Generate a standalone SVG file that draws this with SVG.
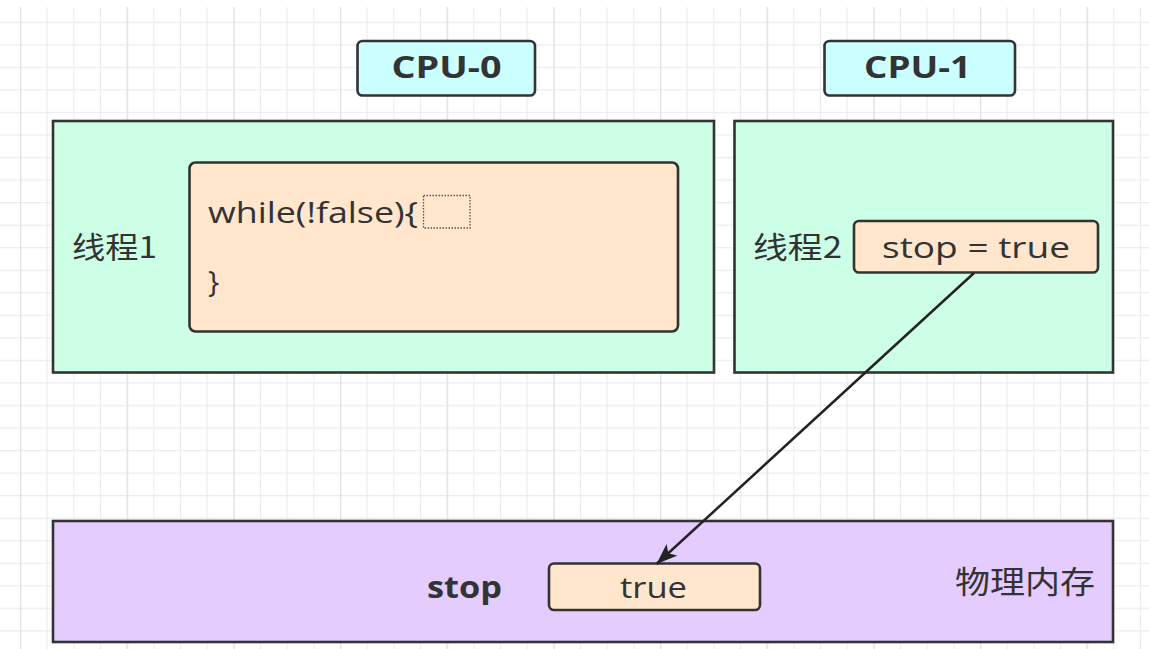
<svg xmlns="http://www.w3.org/2000/svg" width="1149" height="649" viewBox="0 0 1149 649">
  <defs>
    <pattern id="gridMinor" patternUnits="userSpaceOnUse" x="20" y="21.7" width="26.6667" height="22.54">
      <path d="M0.5,0 V22.54 M0,0.5 H26.6667" stroke="#ececf1" stroke-width="1.3" fill="none"/>
    </pattern>
    <pattern id="gridMajor" patternUnits="userSpaceOnUse" x="126.67" y="0" width="106.667" height="649">
      <path d="M0.5,0 V649" stroke="#e1e1e8" stroke-width="1.5" fill="none"/>
    </pattern>
    <marker id="arrow" markerUnits="userSpaceOnUse" markerWidth="24" markerHeight="18" refX="21" refY="8" orient="auto">
      <path d="M0,0 L21,8 L0,16 L5,8 Z" fill="#222222"/>
    </marker>
    <style>
      .box { stroke: #333333; stroke-width: 2.6; }
      .txt { font-family: "Open Sans", "Noto Sans", "Noto Sans CJK SC", sans-serif; fill: #333333; }
      .cjk { font-family: "Noto Sans CJK SC", "Open Sans", sans-serif; fill: #333333; }
      .bold { font-weight: bold; }
    </style>
  </defs>

  <rect width="1149" height="649" fill="#ffffff"/>
  <rect x="0" y="7" width="1149" height="642" fill="url(#gridMinor)"/>
  <rect x="0" y="7" width="1149" height="642" fill="url(#gridMajor)"/>

  <g id="cpu0">
    <rect class="box" x="357.5" y="41" width="177.5" height="54.5" rx="5" fill="#ccffff"/>
    <text class="txt bold" x="446.5" y="78" font-size="30" text-anchor="middle" textLength="110" lengthAdjust="spacingAndGlyphs">CPU-0</text>
  </g>

  <g id="cpu1">
    <rect class="box" x="824.5" y="41" width="190.5" height="54.5" rx="5" fill="#ccffff"/>
    <text class="txt bold" x="917.5" y="78" font-size="30" text-anchor="middle" textLength="107" lengthAdjust="spacingAndGlyphs">CPU-1</text>
  </g>

  <g id="thread1">
    <rect class="box" x="53" y="121" width="661" height="251.5" fill="#ccffe6"/>
    <text class="cjk" x="72" y="258" font-size="30" textLength="85" lengthAdjust="spacingAndGlyphs">线程1</text>
  </g>

  <g id="loop">
    <rect class="box" x="189.5" y="162.5" width="488.5" height="169" rx="6" fill="#ffe6cc"/>
    <text class="txt" x="208" y="223" font-size="30" textLength="210" lengthAdjust="spacingAndGlyphs">while(!false){</text>
    <rect x="423.5" y="195.5" width="46.5" height="32.5" fill="none" stroke="#555555" stroke-width="1.3" stroke-dasharray="1.5 1.5"/>
    <text class="txt" x="208" y="292" font-size="30">}</text>
  </g>

  <g id="thread2">
    <rect class="box" x="734.5" y="121" width="378.5" height="251.5" fill="#ccffe6"/>
    <text class="cjk" x="753" y="258" font-size="30" textLength="89" lengthAdjust="spacingAndGlyphs">线程2</text>
  </g>

  <g id="assign">
    <rect class="box" x="854" y="221" width="244" height="51.5" rx="5" fill="#ffe6cc"/>
    <text class="txt" x="882" y="258" font-size="30" textLength="188" lengthAdjust="spacingAndGlyphs">stop = true</text>
  </g>

  <g id="memory">
    <rect class="box" x="53" y="521" width="1060" height="121" fill="#e5ccff"/>
    <text class="txt bold" x="427" y="598" font-size="30" textLength="75" lengthAdjust="spacingAndGlyphs">stop</text>
    <text class="cjk" x="955" y="593" font-size="31" textLength="140" lengthAdjust="spacingAndGlyphs">物理内存</text>
  </g>

  <g id="value">
    <rect class="box" x="549" y="563.5" width="211" height="46.5" rx="5" fill="#ffe6cc"/>
    <text class="txt" x="620" y="598" font-size="30" textLength="67" lengthAdjust="spacingAndGlyphs">true</text>
  </g>

  <g id="connectors">
    <line x1="974" y1="273" x2="656.5" y2="564" stroke="#222222" stroke-width="2.5" marker-end="url(#arrow)"/>
  </g>
</svg>
